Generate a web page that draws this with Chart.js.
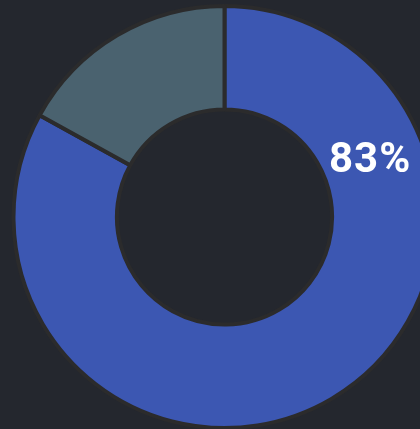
<!DOCTYPE html>
<html>
<head>
<meta charset="utf-8">
<script src="https://cdn.jsdelivr.net/npm/chart.js@4"></script>
<style>
    html, body { margin: 0; padding: 0; background: #24272e; overflow: hidden; }
    body { width: 420px; height: 429px; position: relative; }
    #wrap { position: absolute; left: 11px; top: 4px; width: 427px; height: 426px; }
</style>
</head>
<body>
<div id="wrap"><canvas id="chart"></canvas></div>
<script>
const labels = ["Used", "Free"];
const values = [83, 17];
const colors = ["#3c57b2", "#4a626f"];

// draws the percentage of the first slice inside its ring
const percentLabel = {
    id: "percentLabel",
    afterDatasetsDraw(chart) {
        const arc = chart.getDatasetMeta(0).data[0];
        if (!arc) return;
        const { x, y, innerRadius, outerRadius, startAngle } = arc.getProps(["x", "y", "innerRadius", "outerRadius", "startAngle"], true);
        const total = values.reduce((a, b) => a + b, 0);
        const pct = Math.round(values[0] / total * 100);
        const angle = startAngle + 68.7 * Math.PI / 180;
        const r = (innerRadius + outerRadius) / 2 - 3;
        const ctx = chart.ctx;
        ctx.save();
        ctx.fillStyle = "#ffffff";
        ctx.font = "bold 42px Roboto, sans-serif";
        ctx.letterSpacing = "1px";
        ctx.textAlign = "center";
        ctx.textBaseline = "middle";
        ctx.fillText(pct + "%", x + r * Math.cos(angle), y + r * Math.sin(angle) + 1);
        ctx.restore();
    }
};

const ctx = document.getElementById("chart");
new Chart(ctx, {
    type: "doughnut",
    data: {
        labels: labels,
        datasets: [{
            data: values,
            backgroundColor: colors,
            borderColor: "#2b2b2c",
            borderWidth: 4
        }]
    },
    options: {
        responsive: true,
        maintainAspectRatio: false,
        animation: false,
        cutout: "51%",
        plugins: {
            legend: { display: false },
            tooltip: { enabled: false }
        }
    },
    plugins: [percentLabel]
});
</script>
</body>
</html>
